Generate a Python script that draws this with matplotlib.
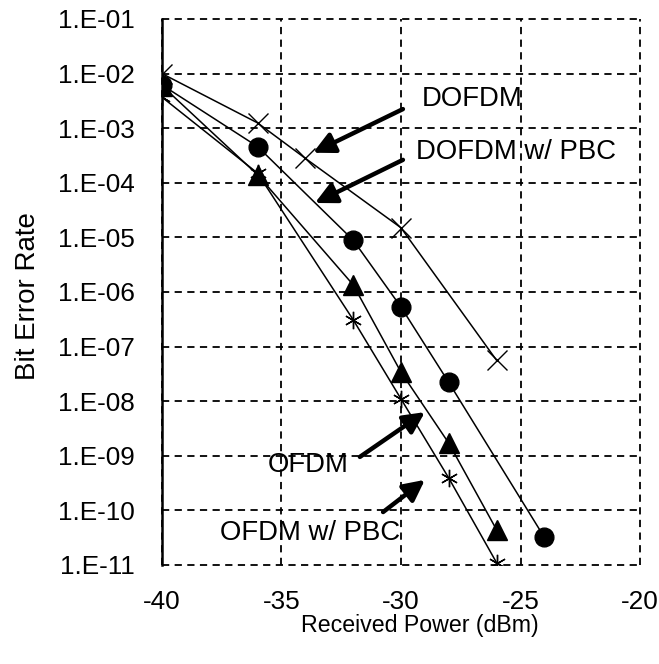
import matplotlib
matplotlib.use('Agg')
import matplotlib.pyplot as plt
from matplotlib.ticker import FixedLocator, FuncFormatter
import numpy as np

plt.rcParams['font.family'] = ['Liberation Sans', 'DejaVu Sans']
plt.rcParams['axes.unicode_minus'] = False

# Data
power_dofdm = [-40, -36, -34, -30, -26]
ber_dofdm = [1.0e-2, 1.25e-3, 2.8e-4, 1.5e-5, 5.6e-8]

power_dofdm_pbc = [-40, -36, -32, -30, -28, -24]
ber_dofdm_pbc = [6.2e-3, 4.6e-4, 8.9e-6, 5.3e-7, 2.2e-8, 3.2e-11]

power_ofdm = [-40, -36, -32, -30, -28, -26]
ber_ofdm = [6.0e-3, 1.4e-4, 1.35e-6, 3.4e-8, 1.7e-9, 4.4e-11]

power_ofdm_pbc = [-40, -36, -32, -30, -28, -26]
ber_ofdm_pbc = [3.7e-3, 1.5e-4, 3.1e-7, 1.1e-8, 3.9e-10, 1.1e-11]

x_ticks = [-40, -35, -30, -25, -20]
y_ticks = [10.0 ** -k for k in range(1, 12)]

fig = plt.figure(figsize=(6.59, 6.64), dpi=100)
ax = fig.add_axes([0.2458, 0.1491, 0.7254, 0.8223])

ax.set_yscale('log')
ax.set_xlim(-40, -20)
ax.set_ylim(1e-11, 1e-1)

ax.plot(power_dofdm, ber_dofdm, color='black', lw=1.1, marker='x',
        markersize=14, markeredgewidth=1.0, zorder=3)
ax.plot(power_dofdm_pbc, ber_dofdm_pbc, color='black', lw=1.1, marker='o',
        markersize=13.5, zorder=3)
ax.plot(power_ofdm, ber_ofdm, color='black', lw=1.1, marker='^',
        markersize=14.5, zorder=3)
ax.plot(power_ofdm_pbc, ber_ofdm_pbc, color='black', lw=1.1, marker=(6, 2, 0),
        markersize=12.5, markeredgewidth=1.0, zorder=3)

# Grid and axes styling
ax.xaxis.set_major_locator(FixedLocator(x_ticks))
ax.yaxis.set_major_locator(FixedLocator(y_ticks))
ax.yaxis.set_minor_locator(FixedLocator([]))
ax.yaxis.set_major_formatter(FuncFormatter(lambda v, p: "1.E-%02d" % round(-np.log10(v))))
ax.grid(True, which='major', color='black', linestyle=(0, (4, 3)), lw=1.3)
for gl in ax.get_xgridlines() + ax.get_ygridlines():
    gl.set_clip_on(False)
for side in ['top', 'right', 'bottom']:
    ax.spines[side].set_visible(False)
ax.spines['left'].set_linewidth(1.8)
ax.tick_params(axis='both', length=0, labelsize=18.8)
ax.tick_params(axis='y', pad=19.4)
ax.tick_params(axis='x', pad=18)

ax.set_xlabel('Received Power (dBm)', fontsize=16.7)
ax.set_ylabel('Bit Error Rate', fontsize=20)
ax.xaxis.set_label_coords(0.54, -0.0897)
ax.yaxis.set_label_coords(-0.253, 0.493)

# Annotations with arrows
arrow = dict(arrowstyle='-|>', lw=3.2, color='black', mutation_scale=32, shrinkA=0, shrinkB=0)
ax.annotate('', xy=(-33.68, 10 ** -3.45), xytext=(-29.92, 10 ** -2.65), arrowprops=arrow)
ax.annotate('', xy=(-33.6, 10 ** -4.37), xytext=(-29.92, 10 ** -3.58), arrowprops=arrow)
ax.annotate('', xy=(-29.0, 10 ** -8.2), xytext=(-31.72, 10 ** -9.02), arrowprops=arrow)
ax.annotate('', xy=(-29.0, 10 ** -9.44), xytext=(-30.75, 10 ** -10.03), arrowprops=arrow)

FS_NOTE = 19.8
ax.text(-29.12, 10 ** -2.465, 'DOFDM', fontsize=FS_NOTE, ha='left', va='center')
ax.text(-29.37, 10 ** -3.44, 'DOFDM w/ PBC', fontsize=FS_NOTE, ha='left', va='center')
ax.text(-35.56, 10 ** -9.17, 'OFDM', fontsize=FS_NOTE, ha='left', va='center')
ax.text(-37.57, 10 ** -10.41, 'OFDM w/ PBC', fontsize=FS_NOTE, ha='left', va='center')

plt.savefig('out.png', dpi=100)
